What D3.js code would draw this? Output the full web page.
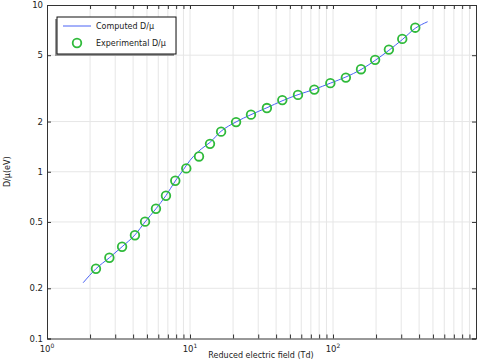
<!DOCTYPE html>
<html>
<head>
<meta charset="utf-8">
<script src="https://cdn.jsdelivr.net/npm/d3@7"></script>
<style>
  body { margin: 0; background: #fff; }
  text { font-family: "DejaVu Sans", sans-serif; fill: #222; }
</style>
</head>
<body>
<div id="chart"></div>
<script>
// Experimental points
const expField = [2.2, 2.73, 3.35, 4.12, 4.85, 5.78, 6.79, 7.89, 9.42, 11.56, 13.8, 16.5,
  21.0, 26.7, 34.5, 44.2, 56.9, 74.0, 95.8, 123, 157, 197, 246, 305, 376];
const expDmu = [0.262, 0.305, 0.355, 0.416, 0.502, 0.600, 0.718, 0.883, 1.047, 1.235, 1.47, 1.74,
  1.985, 2.20, 2.41, 2.69, 2.89, 3.11, 3.40, 3.67, 4.12, 4.69, 5.40, 6.26, 7.31];

// Computed curve
const compField = [1.79, 2.2, 2.73, 3.35, 4.12, 4.85, 5.78, 6.79, 7.89, 9.0, 10.0, 11.0, 12.0,
  13.8, 16.5, 21, 26.7, 34.5, 44, 57, 74, 96, 123, 157, 197, 246, 305, 376, 459];
const compDmu = [0.216, 0.262, 0.305, 0.355, 0.418, 0.50, 0.60, 0.72, 0.88, 1.03, 1.17, 1.28, 1.37,
  1.50, 1.75, 1.99, 2.20, 2.42, 2.66, 2.90, 3.12, 3.40, 3.70, 4.10, 4.65, 5.35, 6.20, 7.25, 7.94];

const yTicks = [0.1, 0.2, 0.5, 1, 2, 5, 10];
const yTickLabels = ["0.1", "0.2", "0.5", "1", "2", "5", "10"];
const xMajor = [1, 10, 100];
const xMajorExp = ["0", "1", "2"];

const W = 481, H = 362;
const plot = { left: 47, right: 476, top: 5, bottom: 338.5 };

const svg = d3.select("#chart").append("svg")
  .attr("width", W).attr("height", H);

const x = d3.scaleLog().domain([1, 1000]).range([plot.left, plot.right]);
const y = d3.scaleLog().domain([0.1, 10]).range([plot.bottom, plot.top]);

// minor tick positions along x
let xMinor = [];
[1, 10, 100].forEach(d => {
  for (let k = 1; k <= 9; k++) xMinor.push(d * k);
});
xMinor.push(1000);

// Grid lines
svg.append("g").selectAll("line")
  .data(xMinor.filter(d => d > 1 && d < 1000))
  .enter().append("line")
  .attr("x1", d => x(d)).attr("x2", d => x(d))
  .attr("y1", plot.top).attr("y2", plot.bottom)
  .attr("stroke", "#e6e6e6").attr("stroke-width", 1);

svg.append("g").selectAll("line")
  .data(yTicks.filter(d => d > 0.1 && d < 10))
  .enter().append("line")
  .attr("x1", plot.left).attr("x2", plot.right)
  .attr("y1", d => y(d)).attr("y2", d => y(d))
  .attr("stroke", "#e6e6e6").attr("stroke-width", 1);

// Axes (inward ticks)
const axisColor = "#333";
const xBottom = svg.append("g")
  .attr("transform", `translate(0,${plot.bottom})`)
  .call(d3.axisBottom(x).tickValues(xMinor).tickSize(-4).tickFormat(""));
const xTop = svg.append("g")
  .attr("transform", `translate(0,${plot.top})`)
  .call(d3.axisTop(x).tickValues(xMinor).tickSize(-4).tickFormat(""));
const yLeft = svg.append("g")
  .attr("transform", `translate(${plot.left},0)`)
  .call(d3.axisLeft(y).tickValues(yTicks).tickSize(-4).tickFormat(""));
const yRight = svg.append("g")
  .attr("transform", `translate(${plot.right},0)`)
  .call(d3.axisRight(y).tickValues(yTicks).tickSize(-4).tickFormat(""));

[xBottom, xTop, yLeft, yRight].forEach(g => {
  g.select(".domain").attr("stroke", axisColor);
  g.selectAll(".tick line").attr("stroke", axisColor);
});

// x tick labels with superscripts
xMajor.forEach((v, i) => {
  const t = svg.append("text")
    .attr("x", x(v)).attr("y", plot.bottom + 13)
    .attr("text-anchor", "middle")
    .style("font-size", "8.5px");
  t.append("tspan").text("10");
  t.append("tspan").attr("dy", -4).style("font-size", "6px").text(xMajorExp[i]);
});

// y tick labels
yTicks.forEach((v, i) => {
  svg.append("text")
    .attr("x", plot.left - 4).attr("y", y(v) + 3)
    .attr("text-anchor", "end")
    .style("font-size", "8.5px")
    .text(yTickLabels[i]);
});

// Axis titles
svg.append("text")
  .attr("x", 261).attr("y", 358)
  .attr("text-anchor", "middle")
  .style("font-size", "8px")
  .text("Reduced electric field (Td)");

svg.append("text")
  .attr("transform", `translate(10,${(plot.top + plot.bottom) / 2}) rotate(-90)`)
  .attr("text-anchor", "middle")
  .style("font-size", "8px")
  .text("D/\u03bc(eV)");

// Computed line
const compData = compField.map((d, i) => ({ f: d, v: compDmu[i] }));
svg.append("path")
  .datum(compData)
  .attr("fill", "none")
  .attr("stroke", "#4a63f5")
  .attr("stroke-width", 1)
  .attr("d", d3.line().x(d => x(d.f)).y(d => y(d.v)).curve(d3.curveMonotoneX));

// Experimental markers
const expData = expField.map((d, i) => ({ f: d, v: expDmu[i] }));
svg.append("g").selectAll("circle")
  .data(expData)
  .enter().append("circle")
  .attr("cx", d => x(d.f)).attr("cy", d => y(d.v))
  .attr("r", 4.3)
  .attr("fill", "none")
  .attr("stroke", "#2fba3a")
  .attr("stroke-width", 1.8);

// Legend
const lg = svg.append("g");
lg.append("rect")
  .attr("x", 55).attr("y", 19).attr("width", 119).attr("height", 37)
  .attr("fill", "#999");
lg.append("rect")
  .attr("x", 57).attr("y", 17).attr("width", 119).attr("height", 37)
  .attr("fill", "#fff").attr("stroke", "#111").attr("stroke-width", 1);
lg.append("line")
  .attr("x1", 63).attr("x2", 91).attr("y1", 26).attr("y2", 26)
  .attr("stroke", "#4a63f5").attr("stroke-width", 1);
lg.append("text")
  .attr("x", 96).attr("y", 29)
  .style("font-size", "8px")
  .text("Computed D/\u03bc");
lg.append("circle")
  .attr("cx", 77).attr("cy", 43).attr("r", 4.3)
  .attr("fill", "none").attr("stroke", "#2fba3a").attr("stroke-width", 1.8);
lg.append("text")
  .attr("x", 96).attr("y", 46)
  .style("font-size", "8px")
  .text("Experimental D/\u03bc");
</script>
</body>
</html>
